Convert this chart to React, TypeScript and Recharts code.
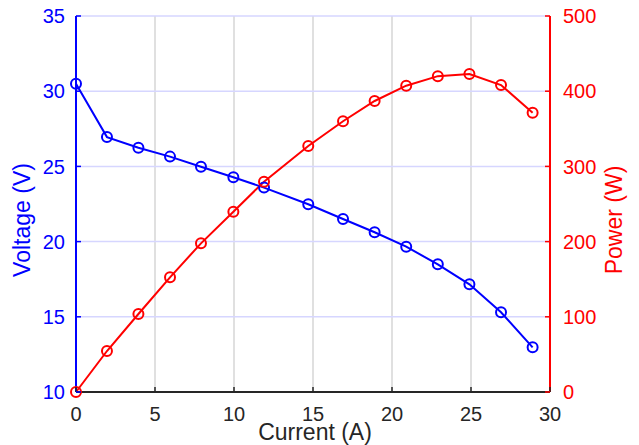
import {
  CartesianGrid,
  Line,
  LineChart,
  XAxis,
  YAxis,
} from "recharts";

const current = [0, 1.96, 3.95, 5.95, 7.91, 9.96, 11.9, 14.7, 16.9, 18.9, 20.9, 22.9, 24.9, 26.9, 28.9];
const voltage = [30.5, 26.95, 26.24, 25.65, 24.98, 24.28, 23.59, 22.48, 21.5, 20.62, 19.66, 18.49, 17.16, 15.3, 12.97];
const power = [0, 54.5, 103.7, 152.5, 197.7, 239.8, 279.7, 327.1, 360, 387, 407.3, 420, 422.9, 408.2, 371.4];

const xTicks = [0, 5, 10, 15, 20, 25, 30];
const vTicks = [10, 15, 20, 25, 30, 35];
const pTicks = [0, 100, 200, 300, 400, 500];

const BLUE = "#0000ff";
const RED = "#ff0000";
const DARK = "#262626";
const FONT = "'Liberation Sans', Arial, sans-serif";
const TICK_LEN = 5;

const rows = current.map((c, i) => ({ current: c, voltage: voltage[i], power: power[i] }));

function BottomTick(props: any) {
  const { x, y, payload } = props;
  return (
    <g>
      <line x1={x} x2={x} y1={y} y2={y - TICK_LEN} stroke={DARK} strokeWidth={1.5} />
      <text x={x} y={y + 29} textAnchor="middle" fill={DARK} fontSize={20} fontFamily={FONT}>
        {payload.value}
      </text>
    </g>
  );
}

function TopTick(props: any) {
  const { x, y } = props;
  return <line x1={x} x2={x} y1={y} y2={y + TICK_LEN} stroke={DARK} strokeWidth={1.5} />;
}

function LeftTick(props: any) {
  const { x, y, payload } = props;
  return (
    <g>
      <line x1={x} x2={x + TICK_LEN} y1={y} y2={y} stroke={BLUE} strokeWidth={1.5} />
      <text x={x - 11} y={y} dy="0.36em" textAnchor="end" fill={BLUE} fontSize={20} fontFamily={FONT}>
        {payload.value}
      </text>
    </g>
  );
}

function RightTick(props: any) {
  const { x, y, payload } = props;
  return (
    <g>
      <line x1={x} x2={x - TICK_LEN} y1={y} y2={y} stroke={RED} strokeWidth={1.5} />
      <text x={x + 13} y={y} dy="0.36em" textAnchor="start" fill={RED} fontSize={20} fontFamily={FONT}>
        {payload.value}
      </text>
    </g>
  );
}

export default function App() {
  return (
    <div style={{ position: "absolute", left: 0, top: 0, background: "#fff" }}>
      <LineChart
        width={639}
        height={445}
        data={rows}
        margin={{ top: 16, right: 0, bottom: 0, left: 0 }}
      >
        <CartesianGrid
          xAxisId="bottom"
          yAxisId="v"
          horizontal={false}
          stroke="#d6d6d6"
          strokeWidth={1.5}
        />
        <CartesianGrid
          xAxisId="bottom"
          yAxisId="v"
          vertical={false}
          stroke="#d6d6ff"
          strokeWidth={1.5}
        />
        <XAxis
          xAxisId="bottom"
          dataKey="current"
          type="number"
          domain={[0, 30]}
          ticks={xTicks}
          height={53}
          tickSize={0}
          tickMargin={0}
          tickLine={false}
          axisLine={{ stroke: DARK, strokeWidth: 2 }}
          tick={BottomTick}
          label={{
            content: (p: any) => {
              const vb = p.viewBox;
              return (
                <text x={vb.x + vb.width / 2 + 2} y={440} textAnchor="middle" fill={DARK} fontSize={23} fontFamily={FONT}>
                  Current (A)
                </text>
              );
            },
          }}
        />
        <XAxis
          xAxisId="top"
          orientation="top"
          dataKey="current"
          type="number"
          domain={[0, 30]}
          ticks={xTicks}
          height={0}
          tickSize={0}
          tickMargin={0}
          tickLine={false}
          axisLine={{ stroke: DARK, strokeWidth: 2 }}
          tick={TopTick}
        />
        <YAxis
          yAxisId="v"
          orientation="left"
          domain={[10, 35]}
          ticks={vTicks}
          width={76}
          tickSize={0}
          tickMargin={0}
          tickLine={false}
          axisLine={{ stroke: BLUE, strokeWidth: 2 }}
          tick={LeftTick}
          label={{
            content: (p: any) => {
              const vb = p.viewBox;
              const cy = vb.y + vb.height / 2 + 16;
              return (
                <text x={29.5} y={cy} transform={`rotate(-90, 29.5, ${cy})`} textAnchor="middle" fill={BLUE} fontSize={23} fontFamily={FONT}>
                  Voltage (V)
                </text>
              );
            },
          }}
        />
        <YAxis
          yAxisId="p"
          orientation="right"
          domain={[0, 500]}
          ticks={pTicks}
          width={89}
          tickSize={0}
          tickMargin={0}
          tickLine={false}
          axisLine={{ stroke: RED, strokeWidth: 2 }}
          tick={RightTick}
          label={{
            content: (p: any) => {
              const vb = p.viewBox;
              const cy = vb.y + vb.height / 2 + 16;
              return (
                <text x={621.5} y={cy} transform={`rotate(-90, 621.5, ${cy})`} textAnchor="middle" fill={RED} fontSize={23} fontFamily={FONT}>
                  Power (W)
                </text>
              );
            },
          }}
        />
        <Line
          xAxisId="bottom"
          yAxisId="v"
          dataKey="voltage"
          stroke={BLUE}
          strokeWidth={2}
          dot={{ r: 5, stroke: BLUE, strokeWidth: 2, fill: "none" }}
          isAnimationActive={false}
        />
        <Line
          xAxisId="bottom"
          yAxisId="p"
          dataKey="power"
          stroke={RED}
          strokeWidth={2}
          dot={{ r: 5, stroke: RED, strokeWidth: 2, fill: "none" }}
          isAnimationActive={false}
        />
      </LineChart>
    </div>
  );
}
